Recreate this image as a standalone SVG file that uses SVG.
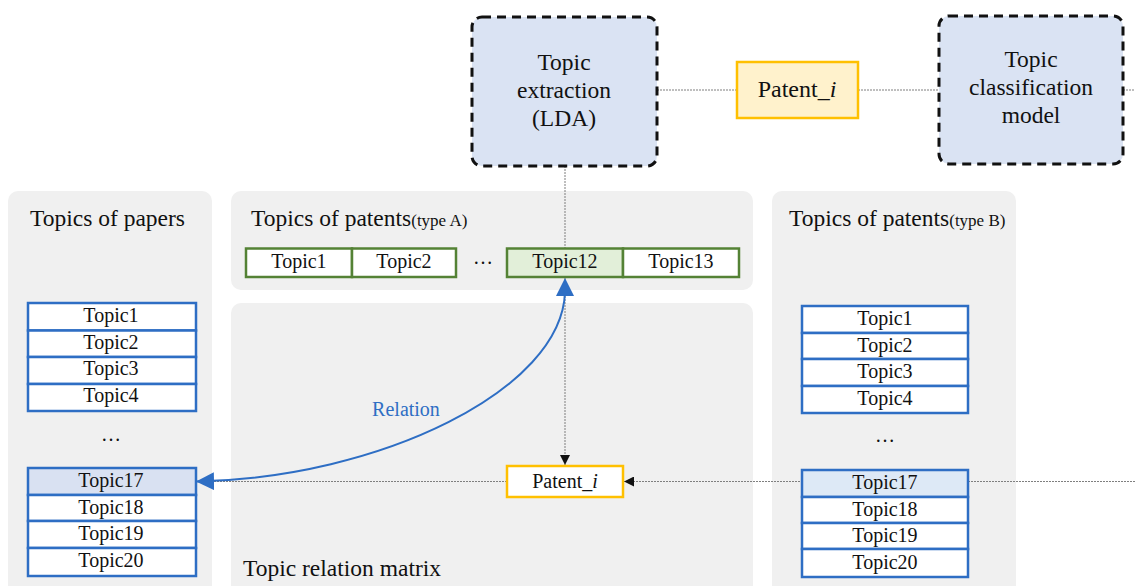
<svg xmlns="http://www.w3.org/2000/svg" width="1135" height="586" viewBox="0 0 1135 586">
<style>
text{font-family:"Liberation Serif","Times New Roman",serif;fill:#111}
.panel{fill:#f0f0f0}
.big{fill:#dae3f3;stroke:#111;stroke-width:3;stroke-dasharray:9 6}
.bt{font-size:23.5px;text-anchor:middle}
.pt{font-size:23.5px}
.sm{font-size:17px}
.tb{fill:#fff;stroke:#2e6ec4;stroke-width:2.5}
.tg{fill:#fff;stroke:#548235;stroke-width:2.5}
.tl{font-size:20px;text-anchor:middle}
.ln{fill:none;stroke:#7f7f7f;stroke-width:1;stroke-dasharray:2 1}
.or{stroke:#ffc000;stroke-width:2.5}
</style>
<defs>
<marker id="ab" viewBox="0 0 10 10" refX="10" refY="5" markerWidth="10" markerHeight="10" markerUnits="userSpaceOnUse" orient="auto"><path d="M0,0L10,5L0,10z" fill="#111"/></marker>
<marker id="abl" viewBox="0 0 10 10" refX="10" refY="5" markerWidth="18" markerHeight="18" markerUnits="userSpaceOnUse" orient="auto"><path d="M0,0L10,5L0,10z" fill="#2e6ec4"/></marker>
</defs>
<g id="panels">
<rect id="panel-papers" class="panel" x="8" y="191" width="204" height="410" rx="10"/>
<rect id="panel-typeA" class="panel" x="231" y="191" width="522" height="99" rx="10"/>
<rect id="panel-matrix" class="panel" x="231" y="303" width="522" height="300" rx="10"/>
<rect id="panel-typeB" class="panel" x="772" y="191" width="244" height="410" rx="10"/>
<text class="pt" x="30" y="226">Topics of papers</text>
<text class="pt" x="251" y="226">Topics of patents<tspan class="sm">(type A)</tspan></text>
<text class="pt" x="789" y="226">Topics of patents<tspan class="sm">(type B)</tspan></text>
<text class="pt" x="243" y="576">Topic relation matrix</text>
</g>
<g id="connectors">
<path class="ln" d="M657,90H737M858,90H938M1123,90H1135"/>
<path class="ln" d="M565,166V248"/>
<path class="ln" d="M565,278V465" marker-end="url(#ab)"/>
<path class="ln" d="M196,481.5H507"/>
<path class="ln" d="M803,481.5H624" marker-end="url(#ab)"/>
<path class="ln" d="M968,481.5H1135"/>
<path d="M565,292C562,390 380,478 196,481.5" fill="none" stroke="#2e6ec4" stroke-width="2" marker-end="url(#abl)"/>
<path d="M565,278L556,296L574,296z" fill="#2e6ec4"/>
<text x="406" y="416" font-size="20" text-anchor="middle" style="fill:#2e6ec4">Relation</text>
</g>
<g id="topic-extraction">
<rect class="big" x="472" y="17" width="185" height="149" rx="10"/>
<text class="bt" x="564" y="70">Topic</text>
<text class="bt" x="564" y="98">extraction</text>
<text class="bt" x="564" y="126">(LDA)</text>
</g>
<g id="patent-top">
<rect x="737" y="62" width="121" height="56" fill="#fff2cc" class="or"/>
<text x="797" y="97" font-size="24" text-anchor="middle">Patent_<tspan font-style="italic">i</tspan></text>
</g>
<g id="topic-classification">
<rect class="big" x="939" y="16" width="184" height="148" rx="10"/>
<text class="bt" x="1031" y="67">Topic</text>
<text class="bt" x="1031" y="95">classification</text>
<text class="bt" x="1031" y="123">model</text>
</g>
<g id="papers-list">
<rect class="tb" x="28" y="303" width="168" height="27.5"/>
<rect class="tb" x="28" y="330.5" width="168" height="26.5"/>
<rect class="tb" x="28" y="357" width="168" height="27"/>
<rect class="tb" x="28" y="384" width="168" height="27"/>
<text class="tl" x="111" y="322">Topic1</text>
<text class="tl" x="111" y="349">Topic2</text>
<text class="tl" x="111" y="375">Topic3</text>
<text class="tl" x="111" y="402">Topic4</text>
<text class="tl" x="111" y="441">…</text>
<rect class="tb" x="28" y="468" width="168" height="27" style="fill:#d9e1f2"/>
<rect class="tb" x="28" y="495" width="168" height="26"/>
<rect class="tb" x="28" y="521" width="168" height="27"/>
<rect class="tb" x="28" y="548" width="168" height="28"/>
<text class="tl" x="111" y="487">Topic17</text>
<text class="tl" x="111" y="514">Topic18</text>
<text class="tl" x="111" y="540">Topic19</text>
<text class="tl" x="111" y="567">Topic20</text>
</g>
<g id="typeA-list">
<rect class="tg" x="246" y="248.5" width="106" height="28.5"/>
<rect class="tg" x="352" y="248.5" width="104" height="28.5"/>
<text class="tl" x="299" y="268">Topic1</text>
<text class="tl" x="404" y="268">Topic2</text>
<text class="tl" x="483" y="264">…</text>
<rect class="tg" x="507" y="248.5" width="116" height="28.5" style="fill:#e2efd9"/>
<rect class="tg" x="623" y="248.5" width="116" height="28.5"/>
<text class="tl" x="565" y="268">Topic12</text>
<text class="tl" x="681" y="268">Topic13</text>
</g>
<g id="patent-matrix">
<rect x="507" y="466" width="116" height="31" fill="#fff" class="or"/>
<text x="565" y="488" font-size="20" text-anchor="middle">Patent_<tspan font-style="italic">i</tspan></text>
</g>
<g id="typeB-list">
<rect class="tb" x="802" y="306" width="166" height="27"/>
<rect class="tb" x="802" y="333" width="166" height="26"/>
<rect class="tb" x="802" y="359" width="166" height="27"/>
<rect class="tb" x="802" y="386" width="166" height="27"/>
<text class="tl" x="885" y="325">Topic1</text>
<text class="tl" x="885" y="352">Topic2</text>
<text class="tl" x="885" y="378">Topic3</text>
<text class="tl" x="885" y="405">Topic4</text>
<text class="tl" x="885" y="442">…</text>
<rect class="tb" x="802" y="470" width="166" height="27" style="fill:#dde9f6"/>
<rect class="tb" x="802" y="497" width="166" height="26"/>
<rect class="tb" x="802" y="523" width="166" height="26"/>
<rect class="tb" x="802" y="549" width="166" height="28"/>
<text class="tl" x="885" y="489">Topic17</text>
<text class="tl" x="885" y="516">Topic18</text>
<text class="tl" x="885" y="542">Topic19</text>
<text class="tl" x="885" y="569">Topic20</text>
</g>
</svg>
